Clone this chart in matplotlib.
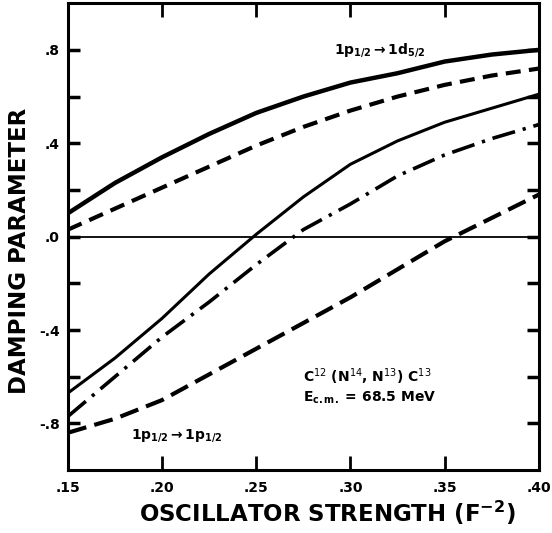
import matplotlib
matplotlib.use("Agg")
import matplotlib.pyplot as plt

# oscillator strength (F^-2)
strength = [0.15, 0.175, 0.20, 0.225, 0.25, 0.275, 0.30, 0.325, 0.35, 0.375, 0.40]

# damping parameter
ds_solid = [0.10, 0.23, 0.34, 0.44, 0.53, 0.60, 0.66, 0.70, 0.75, 0.78, 0.80]
ds_dash = [0.03, 0.12, 0.21, 0.30, 0.39, 0.47, 0.54, 0.60, 0.65, 0.69, 0.72]
pp_solid = [-0.67, -0.52, -0.35, -0.16, 0.01, 0.17, 0.31, 0.41, 0.49, 0.55, 0.61]
pp_dashdot = [-0.77, -0.60, -0.43, -0.28, -0.12, 0.03, 0.14, 0.26, 0.35, 0.42, 0.48]
pp_dash = [-0.84, -0.78, -0.70, -0.59, -0.48, -0.37, -0.26, -0.14, -0.02, 0.08, 0.18]

xticks = [0.15, 0.20, 0.25, 0.30, 0.35, 0.40]
xlabels = [".15", ".20", ".25", ".30", ".35", ".40"]
yticks = [-0.8, -0.4, 0.0, 0.4, 0.8]
ylabels = ["-.8", "-.4", ".0", ".4", ".8"]
yminor = [-0.6, -0.2, 0.2, 0.6]

fig = plt.figure(figsize=(5.52, 5.33), dpi=100)
ax = fig.add_axes([0.123, 0.118, 0.853, 0.876])

ax.plot(strength, ds_solid, color="black", lw=3.2)
ax.plot(strength, ds_dash, color="black", lw=3, ls=(0, (3.6, 2.0)))
ax.plot(strength, pp_solid, color="black", lw=2.2)
ax.plot(strength, pp_dashdot, color="black", lw=2.6, ls=(0, (6.5, 2.2, 0.9, 2.2)))
ax.plot(strength, pp_dash, color="black", lw=3, ls=(0, (4.6, 2.0)))

ax.axhline(0, color="black", lw=1.3)

ax.set_xlim(0.15, 0.40)
ax.set_ylim(-1.0, 1.0)

ax.set_xticks(xticks)
ax.set_xticklabels(xlabels, fontweight="bold", fontsize=10)
ax.set_yticks(yticks)
ax.set_yticklabels(ylabels, fontweight="bold", fontsize=10)
ax.set_yticks(yminor, minor=True)
ax.tick_params(axis="x", direction="in", length=10, width=2, top=True, pad=8)
ax.tick_params(axis="y", direction="in", length=8.5, width=2.5, right=True, pad=6)
ax.tick_params(axis="y", which="minor", direction="in", length=8.5, width=2.5, right=True)
for s in ax.spines.values():
    s.set_linewidth(2.2)

ax.set_xlabel("OSCILLATOR STRENGTH (F$^{\\mathbf{-2}}$)", fontsize=16.5, fontweight="bold")
ax.xaxis.set_label_coords(0.55, -0.062)
ax.set_ylabel("DAMPING PARAMETER", fontsize=16.5, fontweight="bold")
ax.yaxis.set_label_coords(-0.078, 0.469)

ax.text(0.3156, 0.80, r"$\mathbf{1p_{1/2}\rightarrow 1d_{5/2}}$", fontsize=10, ha="center", va="center")
ax.text(0.208, -0.85, r"$\mathbf{1p_{1/2}\rightarrow 1p_{1/2}}$", fontsize=10, ha="center", va="center")
ax.text(0.309, -0.60, r"C$^{12}$ (N$^{14}$, N$^{13}$) C$^{13}$", fontsize=10, fontweight="bold",
        ha="center", va="center")
ax.text(0.31, -0.69, r"E$_{\mathbf{c.m.}}$ = 68.5 MeV", fontsize=10, fontweight="bold",
        ha="center", va="center")

fig.savefig("out.png", dpi=100)
